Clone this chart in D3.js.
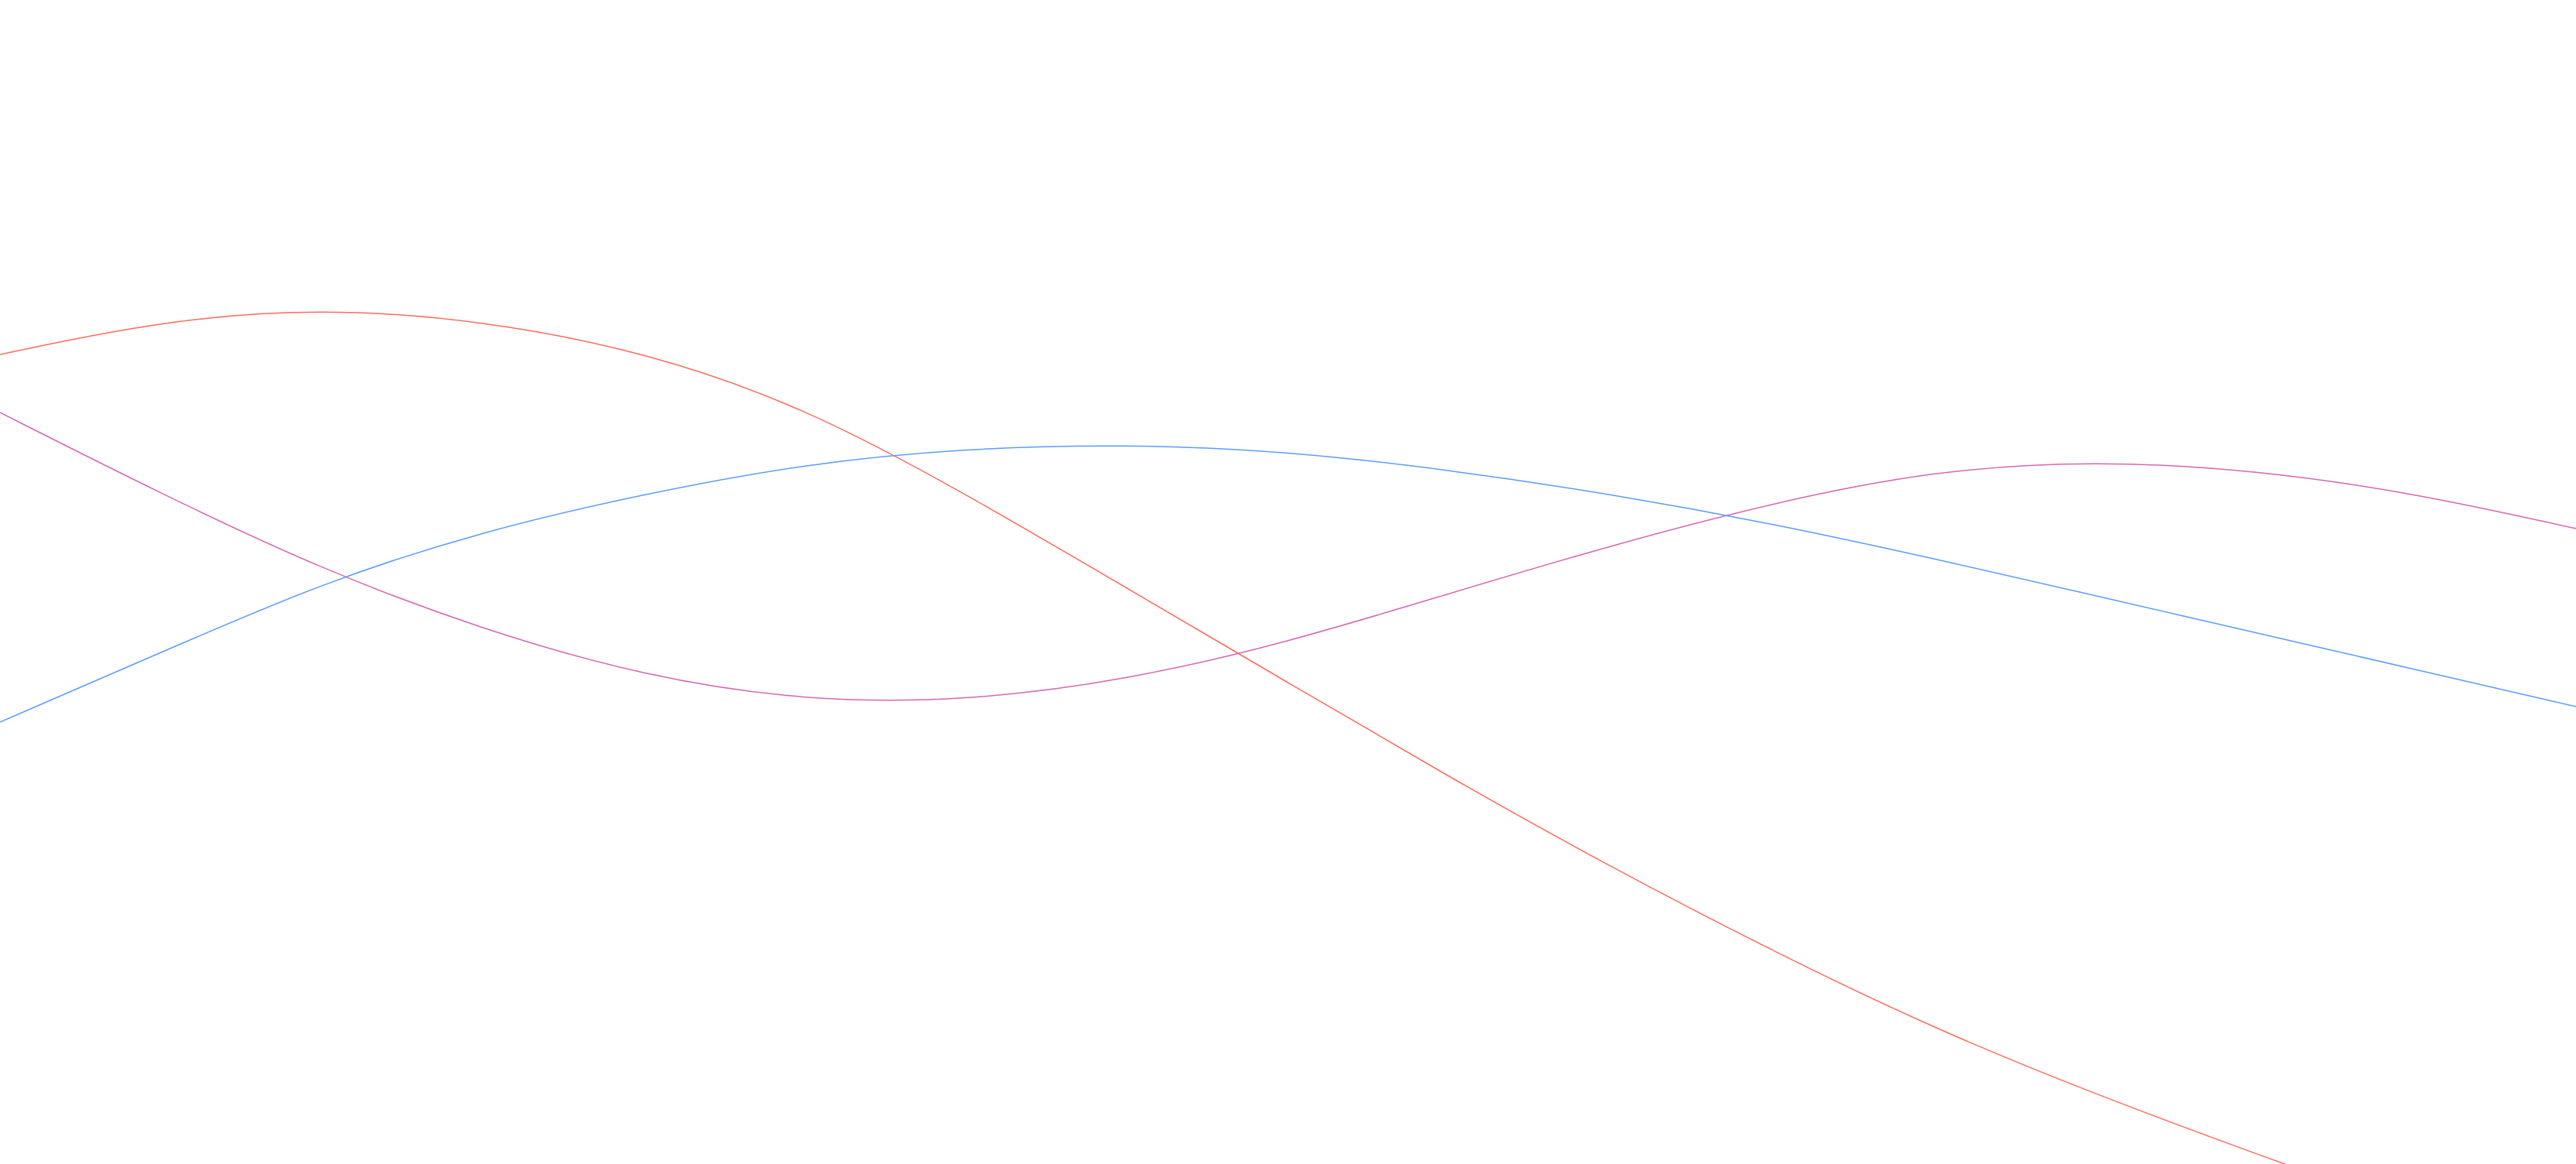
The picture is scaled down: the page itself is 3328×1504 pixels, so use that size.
<!DOCTYPE html>
<html>
<head>
<meta charset="utf-8">
<script src="https://cdn.jsdelivr.net/npm/d3@7"></script>
<style>
  html, body { margin: 0; padding: 0; background: #ffffff; overflow: hidden; }
  svg { display: block; }
</style>
</head>
<body>
<svg id="chart"></svg>
<script>
// x positions (index units)
const xValues = [0, 1, 2, 3, 4, 5, 6, 7, 8, 9, 10, 11, 12, 13, 14, 15, 16];

// series values
const redSeries  = [1046, 1090, 1106, 1090, 1050, 978, 866, 744, 622, 500, 384, 276, 176, 91, 14, -61, -136];
const pinkSeries = [971, 866, 768, 690, 630, 598, 598, 625, 674, 737, 799, 854, 896, 909, 897, 867, 821];
const blueSeries = [571, 661, 751, 818, 866, 905, 925, 930, 921, 897, 866, 828, 783, 735, 687, 639, 591];

const seriesNames  = ["red", "pink", "blue"];
const seriesColors = ["#ff6a5c", "#d865b2", "#5c9bff"];

const W = 3328, H = 1504;
const svg = d3.select("#chart").attr("width", W).attr("height", H);

const x = d3.scaleLinear().domain([0, 16]).range([0, W]);
const y = d3.scaleLinear().domain([0, 1504]).range([H, 0]);

const line = d3.line()
  .x((d, i) => x(xValues[i]))
  .y(d => y(d))
  .curve(d3.curveBasis);

const allSeries = [redSeries, pinkSeries, blueSeries];

svg.selectAll("path.series")
  .data(allSeries)
  .join("path")
  .attr("class", (d, i) => "series " + seriesNames[i])
  .attr("fill", "none")
  .attr("stroke", (d, i) => seriesColors[i])
  .attr("stroke-width", 1.5)
  .attr("d", d => line(d));
</script>
</body>
</html>
